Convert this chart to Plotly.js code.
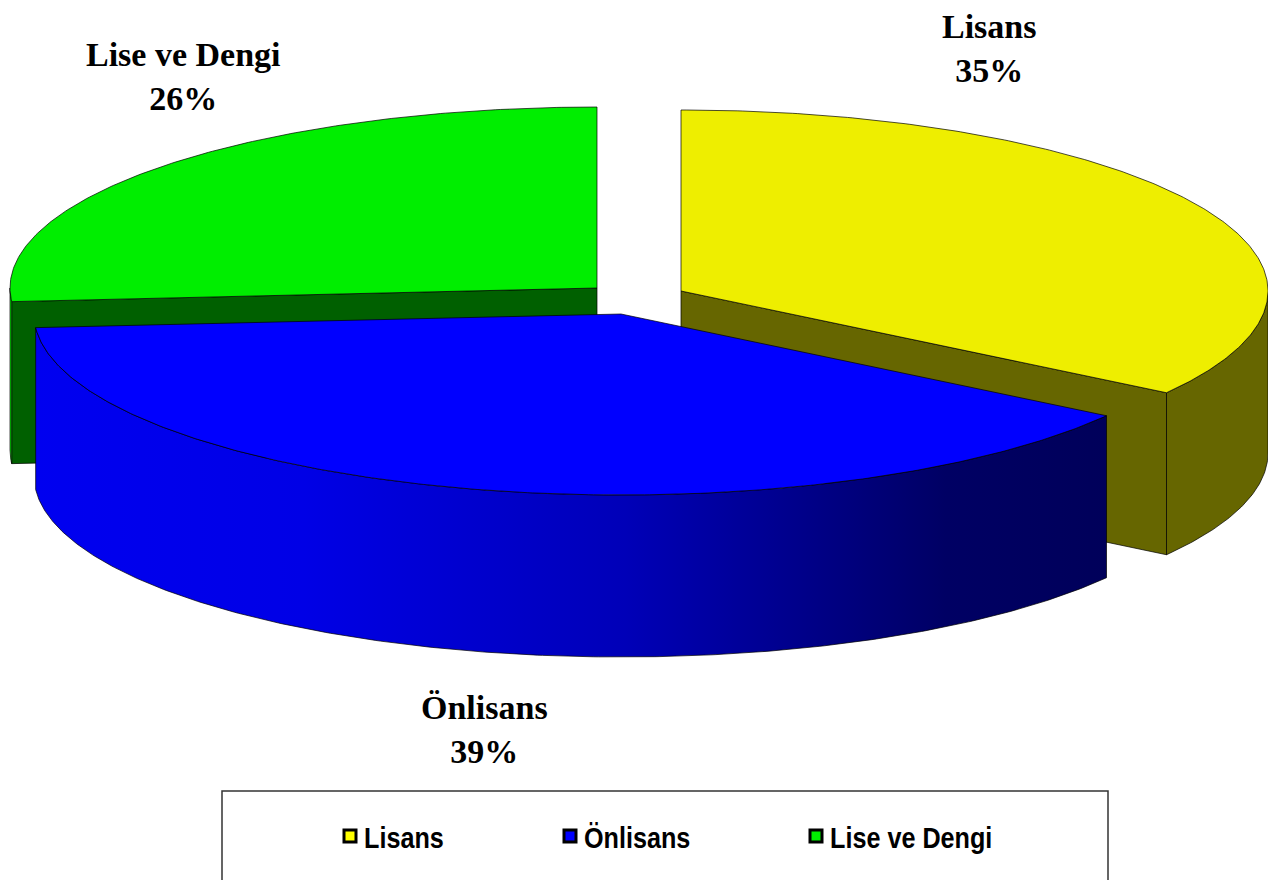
<!DOCTYPE html>
<html>
<head>
<meta charset="utf-8">
<script src="https://cdn.plot.ly/plotly-3.0.1.min.js"></script>
<style>
html,body{margin:0;padding:0;background:#fff;overflow:hidden}
.legendtext,.legend2text,.legend3text{transform-box:fill-box;transform-origin:0 50%;transform:translateX(-6px) scaleX(.84)}
</style>
</head>
<body>
<div id="chart" style="width:1268px;height:880px"></div>
<script>
// Data (labels show these rounded to whole percents)
const categories = ['Lisans', 'Önlisans', 'Lise ve Dengi'];
const shares = [34.5, 39.3, 26.2];

// Styles
const topColors = ['#eeee00', '#0000ff', '#00ee00'];
const wallColors = ['#666600', '#0000e6', '#00ee00'];
const faceColors = ['#666600', '#0000e6', '#006000'];
const swatchColors = ['#ffff00', '#0000ff', '#00ee00'];

// Projection of the tilted, exploded pie
const rx = 587, ry = 181, depth = 162;
const centers = [[681, 291], [621, 314], [597, 288]];
const labelPos = [[989, 48], [484, 729], [183, 76]];
const legendX = [330, 550, 796];

function arc(c, t0, t1, dy) {
  const xs = [], ys = [], n = Math.max(2, Math.ceil(Math.abs(t1 - t0) / 0.5));
  for (let i = 0; i <= n; i++) {
    const t = (t0 + (t1 - t0) * i / n) * Math.PI / 180;
    xs.push(c[0] + rx * Math.sin(t));
    ys.push(c[1] - ry * Math.cos(t) + dy);
  }
  return [xs, ys];
}
function poly(xs, ys, color, extra) {
  return Object.assign({
    type: 'scatter', mode: 'lines', x: xs.concat(xs[0]), y: ys.concat(ys[0]),
    fill: 'toself', fillcolor: color, line: {color: '#000', width: 0.7},
    hoverinfo: 'skip', showlegend: false
  }, extra || {});
}
function wallOuter(c, t0, t1, color, extra) {
  const a = arc(c, t0, t1, 0), b = arc(c, t1, t0, depth);
  return poly(a[0].concat(b[0]), a[1].concat(b[1]), color, extra);
}
function radialFace(c, t, color) {
  const a = arc(c, t, t, 0);
  const ex = a[0][0], ey = a[1][0];
  return poly([c[0], ex, ex, c[0]], [c[1], ey, ey + depth, c[1] + depth], color);
}
function topFace(c, t0, t1, color) {
  const a = arc(c, t0, t1, 0);
  return poly([c[0]].concat(a[0]), [c[1]].concat(a[1]), color);
}

// Slice angles, clockwise from the top
const total = shares.reduce((p, v) => p + v, 0);
const starts = [], ends = [];
shares.reduce((acc, v, i) => { starts[i] = acc; ends[i] = acc + v / total * 360; return ends[i]; }, 0);

const traces = [];
// green (back left)
traces.push(radialFace(centers[2], starts[2], faceColors[2]));
traces.push(wallOuter(centers[2], starts[2], 270, wallColors[2]));
traces.push(topFace(centers[2], starts[2], ends[2], topColors[2]));
// yellow (back right)
traces.push(radialFace(centers[0], ends[0], faceColors[0]));
traces.push(wallOuter(centers[0], 90, ends[0], wallColors[0]));
traces.push(topFace(centers[0], starts[0], ends[0], topColors[0]));
// blue (front)
traces.push(wallOuter(centers[1], starts[1], ends[1], wallColors[1], {
  fillgradient: {
    type: 'horizontal',
    colorscale: [[0, '#0000f0'], [0.25, '#0000e6'], [0.55, '#0000b8'], [0.85, '#000064'], [1, '#00005a']]
  }
}));
traces.push(topFace(centers[1], starts[1], ends[1], topColors[1]));

// Legend entries, each in its own positioned legend
categories.forEach((name, i) => {
  traces.push({
    type: 'scatter', mode: 'markers', x: [null], y: [null], name: name,
    legend: i === 0 ? 'legend' : 'legend' + (i + 1),
    marker: {symbol: 'square', size: 12, color: swatchColors[i], line: {color: '#000', width: 3}},
    showlegend: true, hoverinfo: 'skip'
  });
});

const W = 1268, H = 880;
const legendOf = i => ({
  x: legendX[i] / W, xanchor: 'left', y: 1 - 836 / H, yanchor: 'middle',
  bgcolor: 'rgba(0,0,0,0)', borderwidth: 0,
  font: {family: '"Liberation Sans", Arial, sans-serif', size: 30, color: '#000', weight: 700}
});

const layout = {
  width: W, height: H,
  margin: {l: 0, r: 0, t: 0, b: 0},
  paper_bgcolor: '#fff', plot_bgcolor: '#fff',
  xaxis: {range: [0, W], visible: false, fixedrange: true},
  yaxis: {range: [H, 0], visible: false, fixedrange: true},
  showlegend: true,
  legend: legendOf(0), legend2: legendOf(1), legend3: legendOf(2),
  shapes: [{type: 'rect', xref: 'x', yref: 'y', x0: 222, x1: 1108, y0: 791, y1: 900,
            line: {color: '#333', width: 1.5}, fillcolor: '#fff', layer: 'below'}],
  annotations: categories.map((name, i) => ({
    x: labelPos[i][0], y: labelPos[i][1], xref: 'x', yref: 'y',
    text: name + '<br>' + Math.round(shares[i]) + '%', showarrow: false,
    xanchor: 'center', yanchor: 'middle', align: 'center',
    font: {family: '"Liberation Serif", "Times New Roman", serif', size: 34, color: '#000', weight: 700}
  }))
};

Plotly.newPlot('chart', traces, layout, {staticPlot: true, displayModeBar: false});
</script>
</body>
</html>
